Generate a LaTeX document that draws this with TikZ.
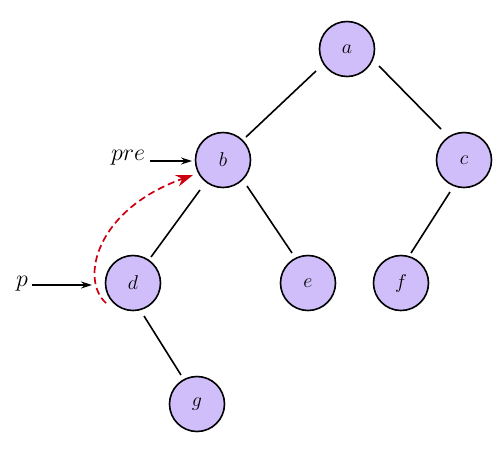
\documentclass[tikz,border=0pt]{standalone}
\usepackage{fix-cm}
\usetikzlibrary{arrows.meta,calc}
\definecolor{nodefill}{RGB}{207,190,249}
\definecolor{redarrow}{RGB}{204,0,17}
\tikzset{
  treenode/.style={circle,draw=black,fill=nodefill,line width=1.6pt,minimum size=55pt,inner sep=0pt,font=\fontsize{20}{24}\selectfont},
  treeedge/.style={line width=1.6pt},
  ptr/.style={line width=1.2pt,-{Stealth[length=11pt,width=7pt]}},
  lbl/.style={inner sep=0pt,font=\fontsize{24}{28}\selectfont},
  thread/.style={redarrow,line width=1.7pt,dash pattern=on 7pt off 4pt,-{Stealth[length=17pt,width=12pt]}}
}
\begin{document}
\begin{tikzpicture}[x=1pt,y=-1pt]
\useasboundingbox (0,0) rectangle (501,451);
\node[treenode] (a) at (347,49) {$a$};
\node[treenode] (b) at (223,160) {$b$};
\node[treenode] (c) at (464,160) {$c$};
\node[treenode] (d) at (133,283) {$d$};
\node[treenode] (e) at (308,283) {$e$};
\node[treenode] (f) at (401,283) {$f$};
\node[treenode] (g) at (197,404) {$g$};
\draw[treeedge] ($(a)+(-31,22)$) -- ($(b)+(23,-23)$);
\draw[treeedge] ($(a)+(32,17)$) -- ($(c)+(-23,-31)$);
\draw[treeedge] ($(b)+(-23,30)$) -- ($(d)+(18,-26)$);
\draw[treeedge] ($(b)+(24,26)$) -- ($(e)+(-16,-30)$);
\draw[treeedge] ($(c)+(-14,32)$) -- ($(f)+(10,-30)$);
\draw[treeedge] ($(d)+(11,33)$) -- ($(g)+(-16,-29)$);
\node[lbl] (p) at (22,284) {$p$};
\node[lbl] (pre) at (128,158) {$pre$};
\coordinate (pstart) at ($(d)+(-101,2)$);
\coordinate (pend) at ($(d)+(-41,2)$);
\coordinate (prestart) at ($(b)+(-73,1)$);
\coordinate (preend) at ($(b)+(-31,1)$);
\draw[ptr] (pstart) -- (pend);
\draw[ptr] (prestart) -- (preend);
\draw[thread] ($(d)+(-27,20)$) .. controls +(-26,-23) and +(-98,35) .. ($(b)+(-30,15)$);
\end{tikzpicture}
\end{document}
